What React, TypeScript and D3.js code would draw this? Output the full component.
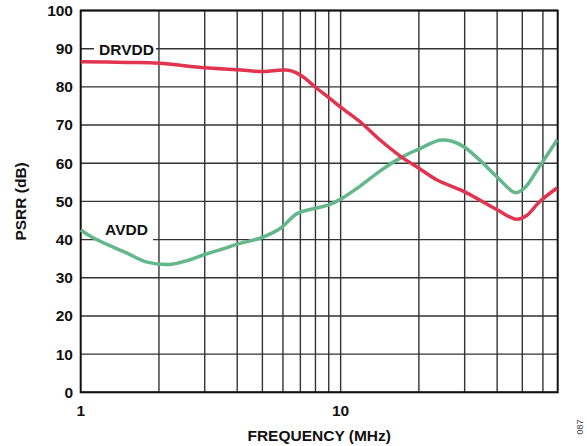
import React from "react";
import * as d3 from "d3";

const W = 587;
const H = 446;

const xTickLabels = [1, 10];
const yTicks = [0, 10, 20, 30, 40, 50, 60, 70, 80, 90, 100];
const xGrid = [2, 3, 4, 5, 6, 7, 8, 9, 10, 20, 30, 40, 50, 60];

const drvddFreq = [1, 1.5, 2, 3, 4, 5, 5.6, 6.2, 6.7, 7.3, 8, 9, 10, 12, 14, 17, 20, 23.5, 30, 40, 47.5, 52, 58, 68];
const drvddPsrr = [86.6, 86.4, 86.2, 85.0, 84.5, 84.0, 84.3, 84.4, 83.8, 82.2, 79.9, 77.2, 74.7, 70.6, 66.4, 61.8, 58.7, 55.6, 52.5, 47.8, 45.3, 46.3, 49.8, 53.5];

const avddFreq = [1, 1.12, 1.5, 1.8, 2.2, 2.6, 3, 3.5, 4, 5, 5.85, 6.8, 8, 9, 10, 12, 14.2, 17.2, 20, 24, 27, 30, 34.3, 40, 47, 51, 58, 68];
const avddPsrr = [42.5, 40.4, 36.5, 34.1, 33.5, 34.6, 36.1, 37.5, 38.8, 40.6, 42.9, 46.8, 48.2, 49.1, 50.6, 54.2, 58.0, 61.6, 63.7, 66.0, 65.7, 64.2, 60.8, 56.4, 52.3, 53.5, 59.0, 66.1];

const left = 80.7;
const right = 557.7;
const top = 10.5;
const bottom = 392.3;

const FONT = "'Liberation Sans', Arial, sans-serif";

export default function App() {
  const x = d3.scaleLog().domain([1, 68.4]).range([left, right]);
  const y = d3.scaleLinear().domain([0, 100]).range([bottom, top]);

  const line = d3
    .line<[number, number]>()
    .x((d) => x(d[0]))
    .y((d) => y(d[1]))
    .curve(d3.curveCatmullRom.alpha(0.5));

  const drv = line(drvddFreq.map((f, i) => [f, drvddPsrr[i]] as [number, number])) || "";
  const avd = line(avddFreq.map((f, i) => [f, avddPsrr[i]] as [number, number])) || "";

  return (
    <svg
      width={W}
      height={H}
      style={{ position: "absolute", left: 0, top: 0, background: "#fff" }}
      fontFamily={FONT}
    >
      {/* horizontal grid */}
      {yTicks.map((t) => (
        <line key={"h" + t} x1={left} x2={right} y1={y(t)} y2={y(t)} stroke="#333" strokeWidth={1.4} />
      ))}
      {/* vertical grid */}
      {xGrid.map((t) => (
        <line key={"v" + t} x1={x(t)} x2={x(t)} y1={top} y2={bottom} stroke="#333" strokeWidth={1.4} />
      ))}
      {/* label backgrounds */}
      <rect x={94} y={42} width={62} height={14} fill="#fff" />
      <rect x={97} y={232} width={56} height={14} fill="#fff" />
      {/* border */}
      <rect x={left} y={top} width={right - left} height={bottom - top} fill="none" stroke="#111" strokeWidth={2} />

      {/* curves */}
      <path d={avd} fill="none" stroke="#62b78b" strokeWidth={3.5} strokeLinejoin="round" />
      <path d={drv} fill="none" stroke="#e1344f" strokeWidth={3.5} strokeLinejoin="round" />

      {/* series labels */}
      <text x={126.5} y={55} textAnchor="middle" fontSize={15.5} fontWeight="bold" fill="#111">DRVDD</text>
      <text x={126.5} y={234.5} textAnchor="middle" fontSize={15.5} fontWeight="bold" fill="#111">AVDD</text>

      {/* y tick labels */}
      {yTicks.map((t) => (
        <text key={"yl" + t} x={73} y={y(t) + 5.4} textAnchor="end" fontSize={15.5} fontWeight="bold" fill="#111">
          {t}
        </text>
      ))}
      {/* x tick labels */}
      {xTickLabels.map((t) => (
        <text key={"xl" + t} x={x(t)} y={415.5} textAnchor="middle" fontSize={15.5} fontWeight="bold" fill="#111">
          {t}
        </text>
      ))}

      {/* axis titles */}
      <text x={(left + right) / 2} y={441} textAnchor="middle" fontSize={15.5} fontWeight="bold" fill="#111">
        FREQUENCY (MHz)
      </text>
      <text
        transform={`translate(25.5, ${(top + bottom) / 2}) rotate(-90)`}
        textAnchor="middle"
        fontSize={15.5}
        fontWeight="bold"
        fill="#111"
      >
        PSRR (dB)
      </text>
      <text transform="translate(583, 427) rotate(-90)" textAnchor="middle" fontSize={9} fill="#444">
        087
      </text>
    </svg>
  );
}
